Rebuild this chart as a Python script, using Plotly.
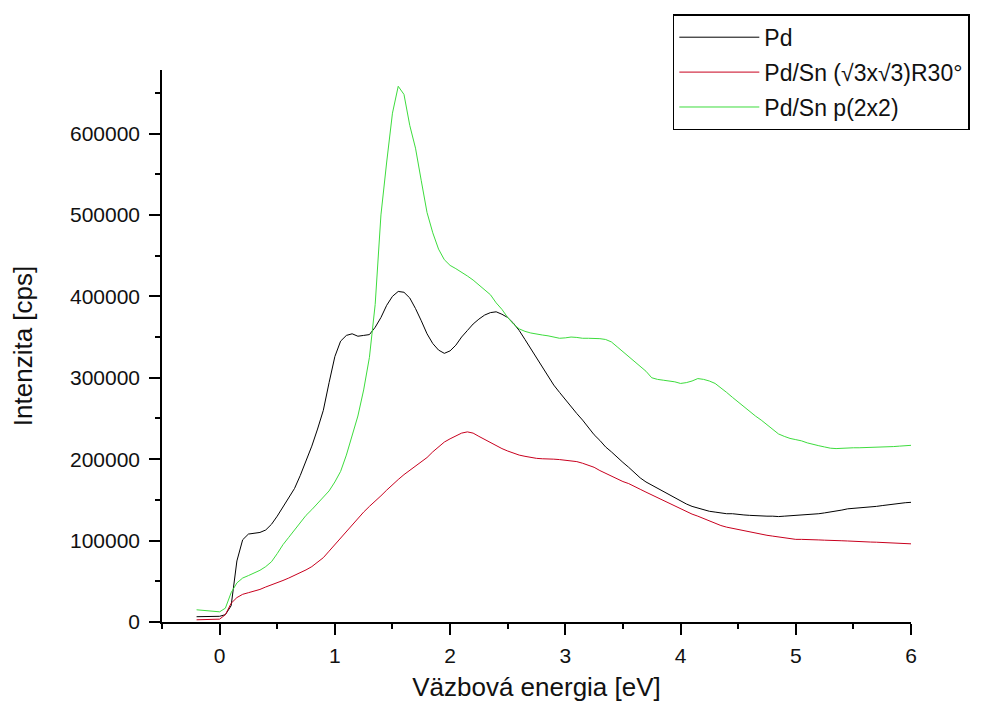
import plotly.graph_objects as go

# Binding energy grid [eV]
energy = [
    -0.2, -0.15, -0.1, -0.05, 0.0, 0.05, 0.1, 0.15, 0.2, 0.25,
    0.3, 0.35, 0.4, 0.45, 0.5, 0.55, 0.6, 0.65, 0.7, 0.75,
    0.8, 0.85, 0.9, 0.95, 1.0, 1.05, 1.1, 1.15, 1.2, 1.25,
    1.3, 1.35, 1.4, 1.45, 1.5, 1.55, 1.6, 1.65, 1.7, 1.75,
    1.8, 1.85, 1.9, 1.95, 2.0, 2.05, 2.1, 2.15, 2.2, 2.25,
    2.3, 2.35, 2.4, 2.45, 2.5, 2.55, 2.6, 2.65, 2.7, 2.75,
    2.8, 2.85, 2.9, 2.95, 3.0, 3.05, 3.1, 3.15, 3.2, 3.25,
    3.3, 3.35, 3.4, 3.45, 3.5, 3.55, 3.6, 3.65, 3.7, 3.75,
    3.8, 3.85, 3.9, 3.95, 4.0, 4.05, 4.1, 4.15, 4.2, 4.25,
    4.3, 4.35, 4.4, 4.45, 4.5, 4.55, 4.6, 4.65, 4.7, 4.75,
    4.8, 4.85, 4.9, 4.95, 5.0, 5.05, 5.1, 5.15, 5.2, 5.25,
    5.3, 5.35, 5.4, 5.45, 5.5, 5.55, 5.6, 5.65, 5.7, 5.75,
    5.8, 5.85, 5.9, 5.95, 6.0,
]

# Clean Pd
pd_clean = [
    6500, 6500, 6500, 6600, 7000, 9000, 20000, 75000, 101000, 108000,
    109000, 110000, 113000, 120000, 130000, 141000, 152000, 164000, 180000, 197000,
    216000, 237000, 260000, 294000, 326000, 345000, 352000, 354000, 351000, 352000,
    353000, 362000, 374000, 389000, 400000, 406000, 405000, 398000, 385000, 370000,
    354000, 342000, 334000, 330000, 333000, 340000, 350000, 358000, 366000, 372000,
    377000, 380000, 381000, 378000, 374000, 367000, 358000, 347000, 336000, 324000,
    313000, 302000, 291000, 282000, 273000, 265000, 256000, 248000, 239000, 230000,
    223000, 215000, 209000, 202000, 196000, 190000, 183000, 177000, 172000, 168000,
    164000, 160000, 157000, 153000, 148000, 145000, 142000, 140000, 138000, 136000,
    135000, 134000, 133000, 133000, 132000, 131500, 131000, 130500, 130000, 130000,
    130000, 129500, 130000, 130500, 131000, 131000, 132000, 132500, 133000, 134000,
    135000, 136000, 137500, 139000, 139500, 140000, 141000, 141500, 142000, 143000,
    144000, 145000, 146000, 146500, 147000,
]

# Pd/Sn (sqrt3 x sqrt3)R30 surface alloy
pdsn_r30 = [
    2700, 2700, 2700, 2800, 3500, 9000, 23000, 30000, 34000, 36000,
    38000, 40000, 43000, 45500, 48000, 51000, 54000, 57000, 60000, 64000,
    68000, 73000, 79000, 87000, 95000, 103000, 112000, 120000, 128000, 135000,
    142000, 148000, 155000, 162000, 169000, 175000, 181000, 186000, 191000, 196000,
    202000, 209000, 215000, 221000, 225000, 229000, 232000, 233500, 232000, 228000,
    224000, 220000, 217000, 213000, 210000, 207000, 205000, 203500, 202000, 201000,
    200500, 200500, 200000, 199500, 198500, 198000, 197000, 195000, 192500, 190000,
    186000, 182500, 179000, 175500, 172500, 170000, 167000, 163000, 159500, 156000,
    152500, 149500, 146000, 142500, 139000, 135500, 132500, 130000, 127000, 124000,
    121000, 118500, 116500, 115000, 113500, 112000, 110500, 109000, 108000, 106500,
    105500, 104500, 103500, 102500, 101500, 101500, 101000, 101000, 100800, 100500,
    100000, 100000, 99800, 99500, 99000, 98800, 98500, 98200, 98000, 97800,
    97600, 97400, 97200, 96500, 96000,
]

# Pd/Sn p(2x2) surface alloy
pdsn_p2x2 = [
    15000, 14500, 14000, 13000, 12500, 17000, 36000, 48000, 54000, 57000,
    60000, 63500, 68000, 74000, 84000, 95000, 104000, 113000, 122000, 131000,
    138000, 146000, 153000, 161000, 172000, 185000, 205000, 228000, 253000, 285000,
    325000, 390000, 500000, 565000, 625000, 658000, 648000, 610000, 582000, 542000,
    503000, 478000, 458000, 445000, 438000, 434000, 430000, 425000, 420000, 414000,
    409000, 402000, 392000, 384000, 374000, 366000, 360000, 357000, 355000, 353500,
    352500, 351500, 350000, 348500, 349000, 350000, 349500, 348500, 348500, 348500,
    348000, 347000, 344000, 338000, 332000, 326000, 320000, 314000, 308000, 300000,
    298000, 297000, 296000, 295000, 293000, 294000, 296000, 299000, 298000, 296000,
    293000, 288000, 282000, 276000, 270000, 264000, 259000, 253000, 248000, 242000,
    236000, 231000, 228000, 225500, 224000, 222500, 220000, 218000, 216500, 215000,
    213500, 213000, 213500, 214000, 214000, 214000, 214200, 214200, 214200, 214500,
    215000, 215500, 216000, 216500, 217000,
]

series = [
    ("Pd", pd_clean, "#000000"),
    ("Pd/Sn (√3x√3)R30°", pdsn_r30, "#c8001e"),
    ("Pd/Sn p(2x2)", pdsn_p2x2, "#3ddc3d"),
]

FONT = "Liberation Sans, Arial, sans-serif"
INK = "#111111"

fig = go.Figure()
for i, (name, values, color) in enumerate(series):
    fig.add_trace(go.Scatter(
        x=energy, y=values, mode="lines", name=name,
        legendgroup=f"g{i}",
        line=dict(color=color, width=1),
    ))

axis_common = dict(
    showline=True, linecolor="black", linewidth=1.5,
    showgrid=False, zeroline=False, automargin=False,
    ticks="outside", ticklen=11, tickwidth=1.5, tickcolor="black",
    tickfont=dict(family=FONT, size=21, color=INK),
    mirror=False,
)

fig.update_layout(
    template="none",
    width=1001, height=702,
    margin=dict(l=162, r=90, t=70, b=80),
    paper_bgcolor="white", plot_bgcolor="white",
    font=dict(family=FONT, color=INK),
    showlegend=True,
    legend=dict(
        x=0.682, y=1.101, xanchor="left", yanchor="top",
        bordercolor="black", borderwidth=1.5, bgcolor="white",
        font=dict(family=FONT, size=23, color=INK),
        traceorder="grouped", tracegroupgap=2, itemwidth=80,
    ),
    xaxis=dict(
        **axis_common,
        range=[-0.5, 6], dtick=1, tick0=0,
        minor=dict(dtick=0.5, ticks="outside", ticklen=5, tickwidth=1.5, tickcolor="black"),
        ticklabelstandoff=3,
        title=dict(text="Väzbová energia [eV]", font=dict(family=FONT, size=26, color=INK), standoff=12),
    ),
    yaxis=dict(
        **axis_common,
        range=[0, 678000], dtick=100000, tick0=0, tickformat="d",
        minor=dict(dtick=50000, ticks="outside", ticklen=5, tickwidth=1.5, tickcolor="black"),
        ticklabelstandoff=5,
        title=dict(text="Intenzita [cps]", font=dict(family=FONT, size=26, color=INK), standoff=30),
    ),
)

fig.write_html("out.html")
